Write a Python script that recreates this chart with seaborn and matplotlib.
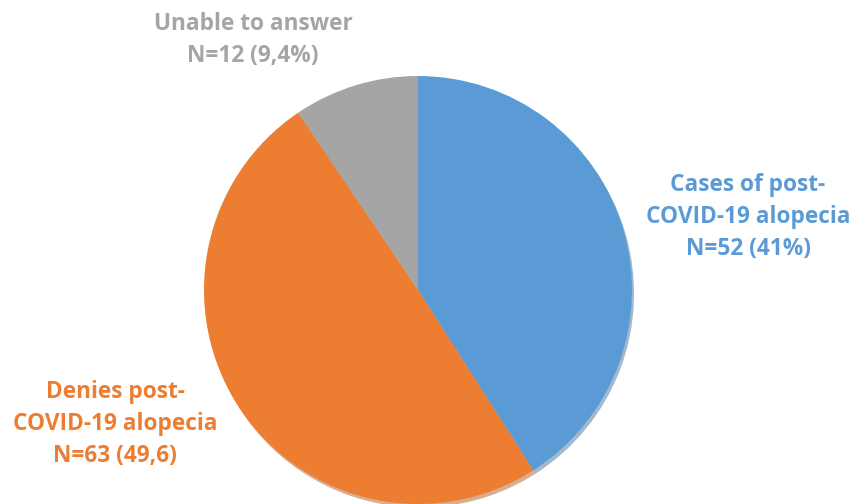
import matplotlib
matplotlib.use("Agg")
import matplotlib.pyplot as plt
import seaborn as sns

categories = ["Cases of post-\nCOVID-19 alopecia\nN=52 (41%)",
              "Denies post-\nCOVID-19 alopecia\nN=63 (49,6)",
              "Unable to answer\nN=12 (9,4%)"]
values = [52, 63, 12]
colors = ["#5B9BD5", "#ED7D31", "#A5A5A5"]

sns.set_theme(style="white")
plt.rcParams['font.family'] = ['Open Sans', 'DejaVu Sans']
palette = sns.color_palette(colors)

fig = plt.figure(figsize=(8.51, 5.04), dpi=100)
ax = fig.add_axes([0, 0, 1, 1])

wedges, _ = ax.pie(values, colors=palette, startangle=90, counterclock=False,
                   center=(418, 504 - 290), radius=214, frame=True,
                   wedgeprops=dict(linewidth=0),
                   shadow={'ox': 1.5, 'oy': -2.5, 'shade': 0.25})
ax.set_xlim(0, 851)
ax.set_ylim(0, 504)
ax.set_aspect('equal')
ax.axis('off')

label_pos = [(748, 504 - 217), (115, 504 - 424), (253, 504 - 40)]
for lab, col, (x, y) in zip(categories, colors, label_pos):
    ax.text(x, y, lab, color=col, fontsize=16.3, fontweight='bold',
            ha='center', va='center', linespacing=1.42)

fig.savefig("out.png", dpi=100)
